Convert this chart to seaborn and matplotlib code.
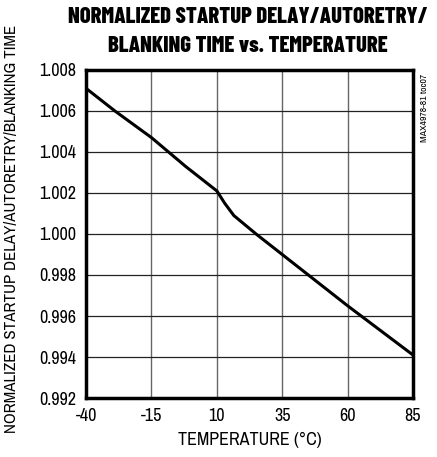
import matplotlib
matplotlib.use("Agg")
import matplotlib.pyplot as plt
import seaborn as sns
import pandas as pd

# Data
temperature = [-40, -29, -15, -2, 10, 13, 16.5, 25, 35, 45, 60, 85]
normalized = [1.0071, 1.0060, 1.0047, 1.0033, 1.0021, 1.0015, 1.0009, 1.0000, 0.9990, 0.9980, 0.9965, 0.9941]
x_ticks = [-40, -15, 10, 35, 60, 85]
y_ticks = [0.992, 0.994, 0.996, 0.998, 1.000, 1.002, 1.004, 1.006, 1.008]

df = pd.DataFrame({"temp": temperature, "norm": normalized})

sns.set_style("white")
plt.rcParams['font.family'] = ['Archivo Narrow', 'DejaVu Sans']
plt.rcParams['axes.unicode_minus'] = False
plt.rcParams['text.color'] = 'black'

fig = plt.figure(figsize=(4.37, 4.57), dpi=100)
ax = fig.add_axes([0.197, 0.129, 0.748, 0.718])

sns.lineplot(data=df, x="temp", y="norm", color="black", linewidth=2.2, ax=ax)

ax.set_xlim(-40, 85)
ax.set_ylim(0.992, 1.008)
ax.set_xticks(x_ticks)
ax.set_yticks(y_ticks)
ax.set_yticklabels([f"{v:.3f}" for v in y_ticks])
ax.tick_params(axis="both", labelsize=13, length=0, pad=7, colors="black")

for x in x_ticks[1:-1]:
    ax.axvline(x, color="#666666", linewidth=1.0, zorder=0)
for y in y_ticks[1:-1]:
    ax.axhline(y, color="#222222", linewidth=0.9, zorder=0)

for s in ax.spines.values():
    s.set_color("black")
    s.set_linewidth(2.5)

ax.set_xlabel("TEMPERATURE (°C)", fontsize=13, labelpad=6, color="black")
ax.set_ylabel("")
fig.text(0.027, 0.5, "NORMALIZED STARTUP DELAY/AUTORETRY/BLANKING TIME",
         rotation=90, ha="center", va="center", fontsize=12.2)

title_font = ['Barlow Condensed', 'DejaVu Sans']
fig.text(0.568, 0.962, "NORMALIZED STARTUP DELAY/AUTORETRY/", ha="center", va="center",
         fontsize=16.3, fontweight=800, family=title_font)
fig.text(0.568, 0.9, "BLANKING TIME vs. TEMPERATURE", ha="center", va="center",
         fontsize=16.3, fontweight=800, family=title_font)

fig.text(0.972, 0.765, "MAX4978-81 toc07", rotation=90, ha="center", va="center", fontsize=7)

fig.savefig("out.png", dpi=100)
